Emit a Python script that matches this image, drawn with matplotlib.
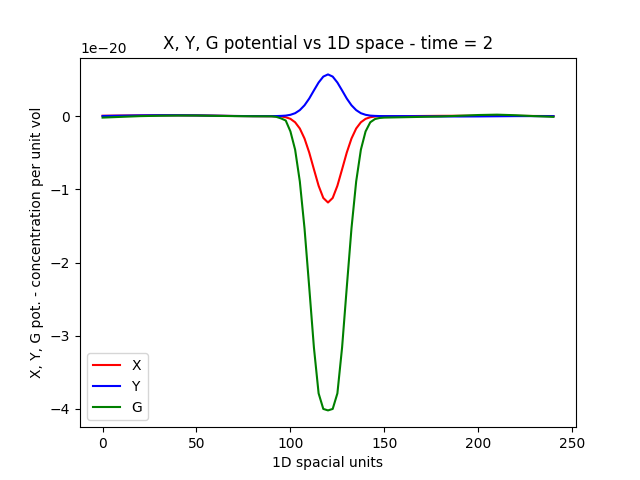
import matplotlib
matplotlib.use("Agg")
import matplotlib.pyplot as plt

space = [0, 10, 20, 30, 40, 50, 60, 70, 80,
         90, 92.5, 95, 97.5, 100, 102.5, 105, 107.5, 110, 112.5, 115, 117.5,
         120, 122.5, 125, 127.5, 130, 132.5, 135, 137.5, 140, 142.5, 145, 147.5, 150,
         160, 170, 180, 190, 200, 210, 220, 230, 240]
x_vals = [0.005, 0.008, 0.01, 0.012, 0.012, 0.01, 0.006, 0.002, 0.0,
          -0.001, -0.002, -0.005, -0.015, -0.037, -0.084, -0.169, -0.306, -0.497, -0.726, -0.951, -1.118,
          -1.18, -1.118, -0.951, -0.726, -0.497, -0.306, -0.169, -0.084, -0.037, -0.015, -0.005, -0.002, -0.001,
          0.0, 0.002, 0.004, 0.005, 0.005, 0.004, 0.003, 0.002, 0.001]
y_vals = [0.002, 0.006, 0.01, 0.012, 0.012, 0.01, 0.006, 0.002, 0.0,
          0.0, 0.001, 0.003, 0.007, 0.018, 0.040, 0.082, 0.148, 0.240, 0.351, 0.459, 0.540,
          0.57, 0.540, 0.459, 0.351, 0.240, 0.148, 0.082, 0.040, 0.018, 0.007, 0.003, 0.001, 0.0,
          0.0, -0.002, -0.004, -0.005, -0.004, -0.002, 0.0, 0.0, 0.0]
g_vals = [-0.02, -0.01, 0.0, 0.005, 0.008, 0.008, 0.004, 0.0, -0.002,
          -0.003, -0.010, -0.031, -0.060, -0.209, -0.458, -0.892, -1.532, -2.336, -3.160, -3.787, -4.0,
          -4.02, -4.0, -3.787, -3.160, -2.336, -1.532, -0.892, -0.458, -0.209, -0.084, -0.040, -0.025, -0.02,
          -0.015, -0.01, -0.005, 0.005, 0.015, 0.02, 0.012, 0.0, -0.01]

scale = 1e-20
plt.figure(figsize=(6.4, 4.8))
plt.plot(space, [v * scale for v in x_vals], color='red', label='X')
plt.plot(space, [v * scale for v in y_vals], color='blue', label='Y')
plt.plot(space, [v * scale for v in g_vals], color='green', label='G')
plt.title("X, Y, G potential vs 1D space - time = 2")
plt.xlabel("1D spacial units")
plt.ylabel("X, Y, G pot. - concentration per unit vol")
plt.legend(loc='lower left')
plt.savefig("out.png", dpi=100)
